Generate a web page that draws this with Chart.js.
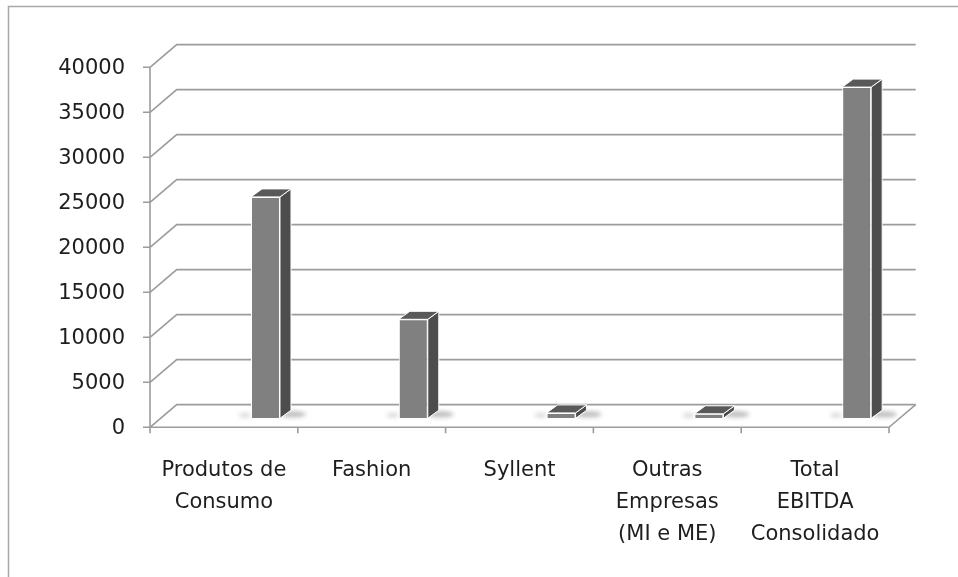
<!DOCTYPE html>
<html><head><meta charset="utf-8">
<script src="https://cdn.jsdelivr.net/npm/chart.js@4"></script>
<style>html,body{margin:0;padding:0;background:#fff;overflow:hidden}#wrap{width:958px;height:577px;position:relative}</style>
</head><body><div id="wrap"><canvas id="c" width="958" height="577"></canvas></div>
<script>
// ---- data ----
const categories = [["Produtos de","Consumo"],["Fashion"],["Syllent"],["Outras","Empresas","(MI e ME)"],["Total","EBITDA","Consolidado"]];
const ebitda = [24600, 11000, 600, 500, 36800];
const yTicks = [0, 5000, 10000, 15000, 20000, 25000, 30000, 35000, 40000];

// ---- 3D look ----
const FDX = -41.6, FDY = 9;          // bar plane -> front plane
const DEPTH_X = 26.7, DEPTH_Y = -22.7; // front plane -> back wall
const BDX = 11, BDY = -8;            // bar depth

const excel3d = {
  id: 'excel3d',
  beforeDatasetsDraw(chart) {
    const ctx = chart.ctx, xs = chart.scales.x, ys = chart.scales.y, a = chart.chartArea;
    const fL = a.left + FDX, fR = a.right + FDX;
    const bL = fL + DEPTH_X, bR = fR + DEPTH_X;
    const n = categories.length;
    ctx.save();
    // outer frame
    ctx.strokeStyle = '#a8a8a8'; ctx.lineWidth = 1.5;
    ctx.beginPath(); ctx.moveTo(8.5, 577); ctx.lineTo(8.5, 6.5); ctx.lineTo(958, 6.5); ctx.stroke();
    // gridlines (side wall + back wall)
    ctx.strokeStyle = '#9c9c9c'; ctx.lineWidth = 1.6;
    yTicks.forEach(v => {
      const fy = ys.getPixelForValue(v) + FDY, by = fy + DEPTH_Y;
      ctx.beginPath(); ctx.moveTo(fL, fy); ctx.lineTo(bL, by); ctx.lineTo(bR, by); ctx.stroke();
    });
    const f0 = ys.getPixelForValue(0) + FDY;
    const fTop = ys.getPixelForValue(yTicks[yTicks.length - 1]) + FDY;
    // floor front and right edges
    ctx.beginPath(); ctx.moveTo(fL, f0); ctx.lineTo(fR, f0); ctx.lineTo(bR, f0 + DEPTH_Y); ctx.stroke();
    // front vertical axis
    ctx.beginPath(); ctx.moveTo(fL, fTop); ctx.lineTo(fL, f0 + 6); ctx.stroke();
    // y tick marks
    ctx.beginPath();
    yTicks.forEach(v => { const fy = ys.getPixelForValue(v) + FDY; ctx.moveTo(fL - 7, fy); ctx.lineTo(fL, fy); });
    // x tick marks
    for (let k = 1; k <= n; k++) { const x = fL + k * (fR - fL) / n; ctx.moveTo(x, f0); ctx.lineTo(x, f0 + 6); }
    ctx.stroke();
    // bar base shadows
    const meta = chart.getDatasetMeta(0);
    ctx.filter = 'blur(2px)';
    meta.data.forEach(el => {
      const p = el.getProps(['x', 'base', 'width'], true);
      ctx.fillStyle = 'rgba(110,110,110,0.45)';
      ctx.beginPath(); ctx.ellipse(p.x + p.width / 2 + 13, p.base - 4, 13, 3, 0, 0, Math.PI * 2); ctx.fill();
      ctx.fillStyle = 'rgba(150,150,150,0.35)';
      ctx.beginPath(); ctx.ellipse(p.x - p.width / 2 - 6, p.base - 3, 6, 2.5, 0, 0, Math.PI * 2); ctx.fill();
    });
    ctx.filter = 'none';
    // tick labels
    ctx.fillStyle = '#1e1e1e';
    ctx.font = '21px "DejaVu Sans"';
    ctx.textAlign = 'right'; ctx.textBaseline = 'middle';
    yTicks.forEach(v => ctx.fillText(String(v), fL - 25, ys.getPixelForValue(v) + FDY + 1.5));
    ctx.textAlign = 'center';
    categories.forEach((lines, i) => {
      const cx = xs.getPixelForValue(i) + FDX;
      lines.forEach((t, j) => ctx.fillText(t, cx, f0 + 43 + j * 32));
    });
    ctx.restore();
  },
  afterDatasetsDraw(chart) {
    const ctx = chart.ctx;
    const meta = chart.getDatasetMeta(0);
    ctx.save();
    ctx.strokeStyle = '#ffffff'; ctx.lineWidth = 1;
    meta.data.forEach(el => {
      const p = el.getProps(['x', 'y', 'base', 'width'], true);
      const l = p.x - p.width / 2, r = p.x + p.width / 2, y = p.y, b = p.base;
      ctx.fillStyle = '#4d4d4d';
      ctx.beginPath(); ctx.moveTo(r, y); ctx.lineTo(r + BDX, y + BDY); ctx.lineTo(r + BDX, b + BDY); ctx.lineTo(r, b); ctx.closePath(); ctx.fill(); ctx.stroke();
      ctx.fillStyle = '#595959';
      ctx.beginPath(); ctx.moveTo(l, y); ctx.lineTo(l + BDX, y + BDY); ctx.lineTo(r + BDX, y + BDY); ctx.lineTo(r, y); ctx.closePath(); ctx.fill(); ctx.stroke();
    });
    ctx.restore();
  }
};

new Chart(document.getElementById('c'), {
  type: 'bar',
  data: {
    labels: categories,
    datasets: [{
      data: ebitda,
      backgroundColor: '#808080',
      borderColor: '#ffffff',
      borderWidth: 1,
      barPercentage: 0.196,
      categoryPercentage: 1
    }]
  },
  options: {
    responsive: false,
    animation: false,
    devicePixelRatio: 1,
    layout: { padding: { left: 191.6, right: 27.4, top: 58.3, bottom: 158.7 } },
    scales: {
      x: { display: false, offset: true },
      y: { display: false, min: 0, max: 40000 }
    },
    plugins: { legend: { display: false }, tooltip: { enabled: false } }
  },
  plugins: [excel3d]
});
</script>
</body></html>
